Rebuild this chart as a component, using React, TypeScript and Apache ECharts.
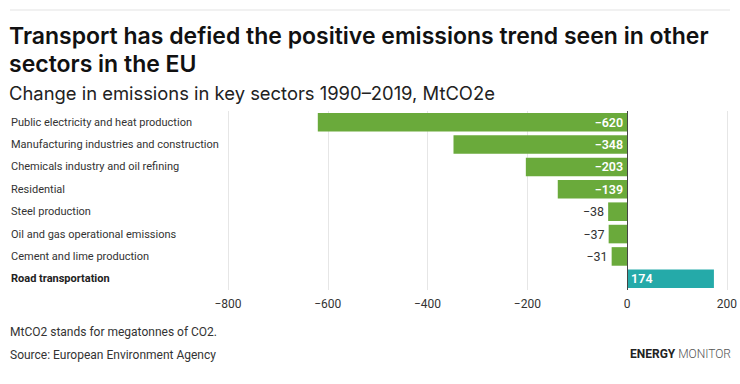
import React, { useEffect, useRef } from "react";
import * as echarts from "echarts";

const categories = [
  "Public electricity and heat production",
  "Manufacturing industries and construction",
  "Chemicals industry and oil refining",
  "Residential",
  "Steel production",
  "Oil and gas operational emissions",
  "Cement and lime production",
  "Road transportation",
];
const values = [-620, -348, -203, -139, -38, -37, -31, 174];
const highlight = "Road transportation";
const xTicks = { min: -800, max: 200, interval: 200 };

const titleLines = [
  "Transport has defied the positive emissions trend seen in other",
  "sectors in the EU",
];
const subtitle = "Change in emissions in key sectors 1990\u20132019, MtCO2e";
const note = "MtCO2 stands for megatonnes of CO2.";
const source = "Source: European Environment Agency";

const GREEN = "#6aaa3b";
const TEAL = "#25aaa9";
const FONT = "Roboto, 'Noto Sans', sans-serif";
const HFONT = "Inter, 'Open Sans', Roboto, sans-serif";

const fmt = (v: number) => (v < 0 ? "\u2212" + Math.abs(v) : String(v));

export default function App() {
  const ref = useRef<HTMLDivElement>(null);
  useEffect(() => {
    if (!ref.current) return;
    const chart = echarts.init(ref.current, undefined, { renderer: "svg" });
    const data = values.map((v) => {
      const big = Math.abs(v) >= 100;
      let position: any;
      if (v > 0) position = "insideLeft";
      else position = big ? "insideRight" : "left";
      return {
        value: v,
        itemStyle: { color: v > 0 ? TEAL : GREEN },
        label: {
          show: true,
          position,
          color: big || v > 0 ? "#ffffff" : "#333333",
          fontWeight: big || v > 0 ? 600 : 400,
          fontSize: 12.5,
          fontFamily: FONT,
          distance: 4,
          formatter: (p: any) => fmt(p.value),
        },
      };
    });
    chart.setOption({
      animation: false,
      textStyle: { fontFamily: FONT },
      grid: { left: 228, right: 10, top: 111, bottom: 94, containLabel: false },
      xAxis: {
        type: "value",
        min: xTicks.min,
        max: xTicks.max,
        interval: xTicks.interval,
        axisLine: { show: false },
        axisTick: { show: false },
        splitLine: { show: true, lineStyle: { color: "#e6e6e6", width: 1 } },
        axisLabel: {
          color: "#333",
          fontSize: 12,
          margin: 8,
          fontFamily: FONT,
          formatter: (v: number) => fmt(v),
        },
      },
      yAxis: {
        type: "category",
        data: categories,
        inverse: true,
        axisLine: { show: false },
        axisTick: { show: false },
        splitLine: { show: false },
        axisLabel: {
          align: "left",
          margin: 217,
          color: "#333",
          fontSize: 11,
          fontFamily: FONT,
          formatter: (v: string) => (v === highlight ? "{b|" + v + "}" : v),
          rich: {
            b: { fontWeight: "bold", color: "#222", fontSize: 11, fontFamily: FONT },
          },
        },
      },
      series: [
        {
          type: "bar",
          data,
          barCategoryGap: "17%",
          markLine: {
            silent: true,
            symbol: "none",
            label: { show: false },
            lineStyle: { color: "#444", width: 1, type: "solid" },
            data: [{ xAxis: 0 }],
          },
        },
      ],
      graphic: [
        {
          type: "line",
          shape: { x1: 10, y1: 10, x2: 730, y2: 10 },
          style: { stroke: "#e3e3e3", lineWidth: 1 },
        },
        ...titleLines.map((t, i) => ({
          type: "text",
          left: 9,
          top: 22 + i * 28,
          style: {
            text: t,
            fontSize: 23,
            fontWeight: 600,
            fill: "#111",
            lineHeight: 27,
            fontFamily: HFONT,
          },
        })),
        {
          type: "text",
          left: 9,
          top: 82,
          style: { text: subtitle, fontSize: 18.4, fill: "#222", fontFamily: HFONT, lineHeight: 22 },
        },
        {
          type: "text",
          left: 10,
          top: 326,
          style: { text: note, fontSize: 12, fill: "#333", fontFamily: FONT },
        },
        {
          type: "text",
          left: 10,
          top: 349,
          style: { text: source, fontSize: 12, fill: "#333", fontFamily: FONT },
        },
        {
          type: "text",
          right: 9,
          top: 348,
          style: {
            text: "{b|ENERGY}{l| MONITOR}",
            rich: {
              b: { fontWeight: "bold", fontSize: 12, fill: "#222", fontFamily: FONT },
              l: { fontWeight: 300, fontSize: 12, fill: "#555", fontFamily: FONT },
            },
          },
        },
      ],
    });
    return () => chart.dispose();
  }, []);
  return (
    <div
      ref={ref}
      style={{ position: "fixed", left: 0, top: 0, width: 740, height: 384, background: "#fff" }}
    />
  );
}
